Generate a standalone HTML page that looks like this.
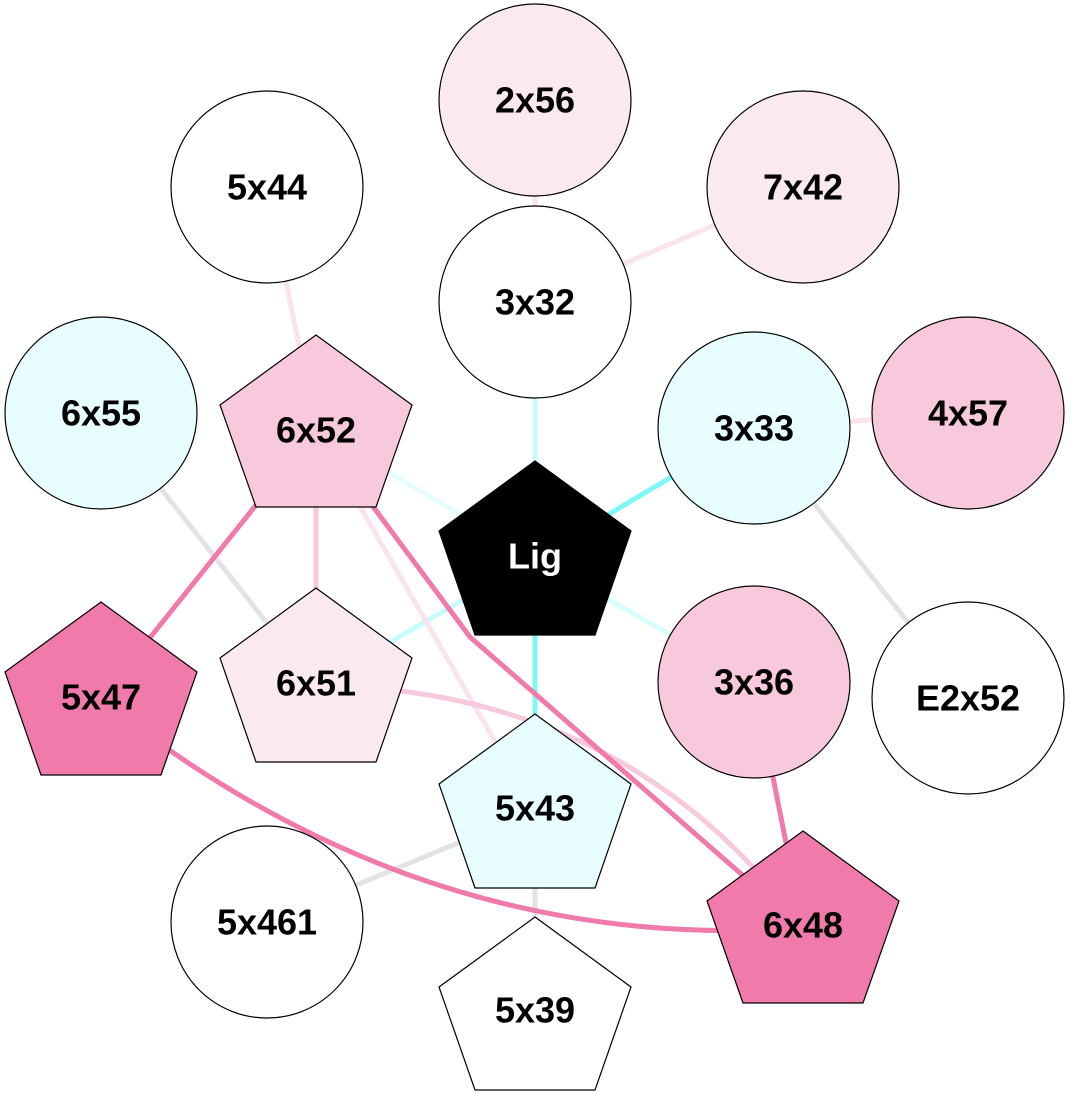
<!DOCTYPE html>
<html><head><style>html,body{margin:0;padding:0;background:#fff}svg{display:block}</style></head><body>
<svg width="1070" height="1115" viewBox="0 0 1070 1115" xmlns="http://www.w3.org/2000/svg">
<g fill="none" stroke-width="5">
<line x1="535" y1="100" x2="535" y2="302" stroke="#fbe3ee"/>
<line x1="535" y1="302" x2="803" y2="187" stroke="#fbe3ee"/>
<line x1="267" y1="187" x2="316" y2="430" stroke="#fbe3ee"/>
<line x1="101" y1="413" x2="316" y2="685" stroke="#e3e3e3"/>
<line x1="968" y1="413" x2="754" y2="428" stroke="#fbe3ee"/>
<line x1="754" y1="428" x2="968" y2="698" stroke="#e3e3e3"/>
<line x1="535" y1="302" x2="535" y2="558" stroke="#c8fcfc"/>
<line x1="316" y1="430" x2="535" y2="558" stroke="#e6fdfd"/>
<line x1="535" y1="558" x2="316" y2="685" stroke="#c8fcfc"/>
<line x1="535" y1="558" x2="754" y2="682" stroke="#d8fdfd"/>
<line x1="535" y1="558" x2="754" y2="428" stroke="#7ff7f7"/>
<line x1="535" y1="558" x2="535" y2="811" stroke="#7ff7f7"/>
<line x1="267" y1="922" x2="535" y2="811" stroke="#e3e3e3"/>
<line x1="535" y1="811" x2="535" y2="1014" stroke="#e3e3e3"/>
<line x1="316" y1="430" x2="316" y2="685" stroke="#f8c8dc"/>
<line x1="316" y1="430" x2="535" y2="811" stroke="#fbe3ee"/>
<path d="M316 685 Q630 690 803 928" stroke="#f8c8dc"/>
<line x1="316" y1="430" x2="101" y2="699" stroke="#f07aaa"/>
<path d="M316 430 L470 637 L803 928" stroke="#f07aaa"/>
<path d="M101 699 Q420 955 803 928" stroke="#f07aaa"/>
<line x1="754" y1="682" x2="803" y2="928" stroke="#f07aaa"/>
</g>
<g stroke="#000" stroke-width="1.2">
<circle cx="535" cy="100" r="96" fill="#fbe9f2"/>
<circle cx="803" cy="187" r="96" fill="#fbe9f2"/>
<circle cx="267" cy="187" r="96" fill="#fff"/>
<circle cx="535" cy="302" r="96" fill="#fff"/>
<circle cx="101" cy="413" r="96" fill="#e8fdfd"/>
<circle cx="754" cy="428" r="96" fill="#e8fdfd"/>
<circle cx="968" cy="413" r="96" fill="#f8c8dc"/>
<circle cx="754" cy="682" r="96" fill="#f8c8dc"/>
<circle cx="968" cy="698" r="96" fill="#fff"/>
<circle cx="267" cy="922" r="96" fill="#fff"/>
<polygon points="316,335 412,405 376,507 256,507 220,405" fill="#f8c8dc"/>
<polygon points="535,461 631,531 595,635 475,635 439,531" fill="#000"/>
<polygon points="316,588 412,658 376,762 256,762 220,658" fill="#fbe9f2"/>
<polygon points="101,602 197,672 161,775 41,775 5,672" fill="#f07aaa"/>
<polygon points="535,714 631,784 595,888 475,888 439,784" fill="#e8fdfd"/>
<polygon points="803,831 899,901 863,1003 743,1003 707,901" fill="#f07aaa"/>
<polygon points="535,917 631,987 595,1090 475,1090 439,987" fill="#fff"/>
</g>
<g font-family="Liberation Sans, Arial, sans-serif" font-weight="bold" font-size="36" text-anchor="middle" dominant-baseline="central" fill="#000">
<text x="535" y="100">2x56</text>
<text x="803" y="187">7x42</text>
<text x="267" y="187">5x44</text>
<text x="535" y="302">3x32</text>
<text x="101" y="413">6x55</text>
<text x="754" y="428">3x33</text>
<text x="968" y="413">4x57</text>
<text x="754" y="682">3x36</text>
<text x="968" y="698">E2x52</text>
<text x="267" y="922">5x461</text>
<text x="316" y="430">6x52</text>
<text x="535" y="556" fill="#fff">Lig</text>
<text x="316" y="683">6x51</text>
<text x="101" y="697">5x47</text>
<text x="535" y="808">5x43</text>
<text x="803" y="925">6x48</text>
<text x="535" y="1010">5x39</text>
</g>
</svg>
</body></html>
